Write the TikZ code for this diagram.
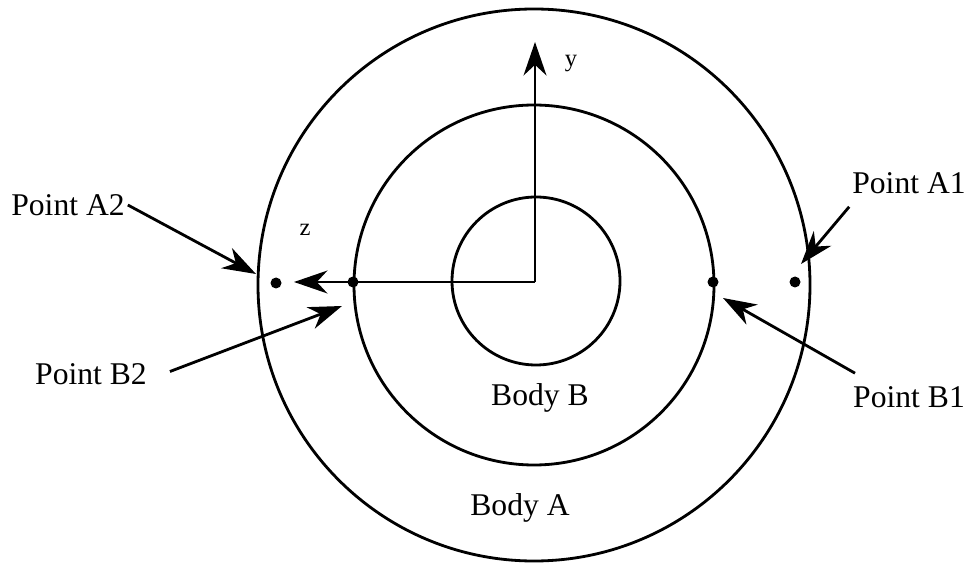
\documentclass[tikz,border=0pt]{standalone}
\usepackage{fontspec}
\setmainfont{Liberation Serif}
\usetikzlibrary{arrows.meta}

\begin{document}
\begin{tikzpicture}[x=0.02cm, y=-0.02cm, line width=1.6pt,
    pointer/.style={-{Stealth[length=19pt, width=13pt, inset=6pt]}},
    lbl/.style={font=\fontsize{18}{20}\selectfont, inner sep=1pt},
    axlbl/.style={font=\fontsize{14}{16}\selectfont, inner sep=1pt},
    dot/.style={circle, fill, inner sep=0pt, minimum size=0.22cm}]
  \useasboundingbox (0,0) rectangle (969,563);

  % Bodies A and B
  \coordinate (Oc) at (534,285);
  \coordinate (Oi) at (536,281);
  \draw (Oc) circle [radius=276];
  \draw (Oc) circle [radius=180];
  \draw (Oi) circle [radius=84];
  \node[lbl] (bodyB) at (540,398) {Body B};
  \node[lbl] (bodyA) at (520,508) {Body A};

  % Axes
  \coordinate (O) at (535,282);
  \coordinate (ytip) at (535,42);
  \coordinate (ztip) at (294,282);
  \draw[pointer] (O) -- (ytip);
  \draw[pointer] (O) -- (ztip);
  \node[axlbl] (ylbl) at (571,64) {y};
  \node[axlbl] (zlbl) at (305,230) {z};

  % Points
  \node[dot] (A2) at (276,283) {};
  \node[dot] (B2) at (353,282) {};
  \node[dot] (B1) at (713,282) {};
  \node[dot] (A1) at (795,282) {};

  \coordinate (tA2) at (256,274);
  \coordinate (tB2) at (342,306);
  \coordinate (tA1) at (801,264);
  \coordinate (tB1) at (723,298);

  \node[lbl] (lA2) at (68,205) {Point A2};
  \node[lbl] (lB2) at (91,374) {Point B2};
  \node[lbl] (lA1) at (909,183) {Point A1};
  \node[lbl] (lB1) at (909,397) {Point B1};

  \draw[pointer] (lA2.east) -- (tA2);
  \draw[pointer] ([xshift=0.4cm, yshift=0.05cm]lB2.east) -- (tB2);
  \draw[pointer] ([yshift=-0.2cm]lA1.south west) -- (tA1);
  \draw[pointer] ([xshift=0.1cm, yshift=0.2cm]lB1.north west) -- (tB1);
\end{tikzpicture}
\end{document}
